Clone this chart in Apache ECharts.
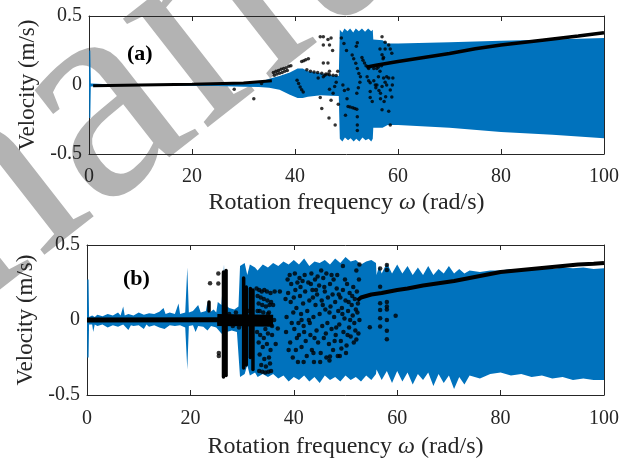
<!DOCTYPE html>
<html>
<head>
<meta charset="utf-8">
<script src="https://cdn.jsdelivr.net/npm/echarts@6/dist/echarts.min.js"></script>
<style>
html,body{margin:0;padding:0;background:#fff;}
#chart{width:630px;height:461px;}
</style>
</head>
<body>
<div id="chart"></div>
<script>
// ---- data ----
var xTicks = [0, 20, 40, 60, 80, 100];
var yTicks = [-0.5, 0, 0.5];

// panel (a): blue envelope
var aUpper = [[0,0],[0.05,0.25],[0.25,0.25],[0.35,0.01],[5,0.004],[15,0.005],[25,0.008],[30,0.012],[33,0.02],[35,0.045],[37,0.065],[39,0.09],[40.5,0.12],[41.5,0.12],[42.5,0.1],[45,0.085],[47,0.07],[48.5,0.065],
  [48.7,0.40],[49.2,0.38],[49.6,0.41],[50.2,0.39],[50.7,0.41],[51.3,0.38],[51.8,0.41],[52.4,0.39],[53,0.41],[53.6,0.385],[54.2,0.41],[54.8,0.39],[55.1,0.40],
  [55.2,0.33],[57,0.325],[58,0.30],[60,0.30],[70,0.31],[80,0.32],[90,0.33],[100,0.34]];
var aLower = [[0,0],[0.05,-0.24],[0.25,-0.24],[0.35,-0.01],[5,-0.004],[15,-0.005],[25,-0.008],[30,-0.012],[33,-0.015],[35,-0.02],[37,-0.035],[39,-0.07],[40.5,-0.095],[41.5,-0.095],[42.5,-0.085],[45,-0.075],[47,-0.078],[48.5,-0.08],
  [48.7,-0.39],[49.2,-0.41],[49.7,-0.38],[50.3,-0.40],[50.8,-0.385],[51.4,-0.41],[51.9,-0.39],[52.5,-0.41],[53.1,-0.38],[53.7,-0.40],[54.3,-0.39],[54.8,-0.41],[55.1,-0.39],
  [55.2,-0.31],[57,-0.31],[58,-0.29],[60,-0.29],[70,-0.31],[80,-0.34],[90,-0.36],[100,-0.385]];

// panel (a): black curves and dots
var aLine1 = [[0.8,-0.005],[10,0.0],[20,0.005],[30,0.015],[35.5,0.03]];
var aLine2 = [[54,0.13],[56,0.145],[60,0.17],[65,0.2],[70,0.228],[75,0.262],[80,0.29],[88,0.325],[95,0.355],[100,0.378]];
var aDots = [
  [28.2,-0.03],[32,-0.10],[33.5,0.01],
  [35.8,0.09],[36.3,0.10],[36.8,0.105],[37.3,0.115],[37.8,0.12],[38.3,0.125],[38.8,0.135],[39.2,0.14],
  [36,0.07],[36.5,0.08],[37,0.085],[37.5,0.09],[38,0.1],[38.5,0.105],
  [41.3,0.17],[41.7,0.175],[42.1,0.183],[42.6,0.19],
  [40.4,0.035],[40.7,0.01],[41,-0.015],[41.3,-0.035],[41.6,-0.05],
  [42.3,0.11],[43,0.1],[43.7,0.095],[44.4,0.09],[45.2,0.085],[46,0.08],[46.7,0.075],[47.4,0.07],[48,0.068],
  [44.9,0.35],[45.5,0.35],[46.4,0.33],[47,0.34],[46.7,0.29],[45.5,0.29],[47.3,0.25],[45.5,0.16],[46.4,0.16],[46.7,0.10],
  [46.4,0.08],[45.8,0.07],[45.5,0.06],[44.9,-0.09],[45.2,-0.17],[46.6,-0.24],[47.8,-0.29],[47,-0.11],[46.7,-0.03],[47.4,-0.06],
  [48,0.02],[47.7,-0.01],[44.5,0.05],[48.3,0.1],[48.4,-0.14],[49.0,0.34],[49.5,0.30],[50,0.25],
  [49.3,0.0],[49.6,-0.04],[50.3,-0.03],[50.1,-0.10],[50.7,-0.16],[51.2,-0.165],[51.6,-0.17],[52,-0.175],[50.3,-0.155],[49.8,-0.22],
  [52.1,-0.23],[52.1,-0.29],[52.1,-0.33],
  [52.1,0.307],[51.9,0.28],[51.1,0.217],[51.4,0.19],[51.8,0.157],[52.1,0.12],[52.4,0.084],[52.7,0.06],[52.6,0.02],[52.3,-0.02],[52.0,-0.06],
  [53,0.2],[53.2,0.18],[53.5,0.16],[53.8,0.14],[54.1,0.13],
  [54.6,0.017],[54.6,-0.047],[54.6,-0.09],[55,-0.12],[55.3,0.03],[55.9,0.0],[56.2,0.06],[56.5,0.1],[56.8,0.14],[57.1,0.19],
  [56.5,0.26],[56.9,0.35],[56.9,0.22],[57.2,0.2],[57.2,0.05],[57.5,0.02],[56.9,-0.01],[56.3,-0.04],[55.7,-0.02],[57.5,0.31],
  [57.5,0.26],[57.8,0.06],[57.8,0.0],[56.9,-0.18],[56.6,-0.10],[56.6,-0.06],[55.3,0.12],[55.9,0.12],[56.2,0.13],[54.3,0.12],
  [54.0,0.06],[54.3,0.03],[55.6,0.0],[57.6,-0.085],[57.3,-0.12],
  [58.2,0.29],[58.5,0.26],[58.8,0.23],[58.2,0.05],[58.5,-0.036],[58.8,-0.087],[58.2,-0.19],[58.5,-0.29],[58.9,0.0],[59,0.05]
];

// panel (b): blue envelope
var bUpper = [[0,0],[0.05,0.27],[0.3,0.27],[0.4,0.02],[1,0.03],[1.5,0.02],[2,0.035],[3,0.025],[4,0.04],[5,0.03],[6,0.05],[6.5,0.03],[7,0.09],[7.3,0.03],
  [8,0.04],[9,0.03],[10,0.05],[11,0.035],[12,0.045],[13,0.04],[14,0.055],[14.8,0.08],[15.2,0.04],[16,0.05],[17,0.04],[17.7,0.11],[18,0.04],[19,0.05],
  [19.4,0.35],[19.7,0.05],[20.5,0.06],[21.5,0.10],[22,0.05],[23,0.06],[23.3,0.12],[23.7,0.05],[24.5,0.07],[25,0.05],[25.3,0.12],[26,0.1],[26.5,0.37],
  [26.8,0.1],[27.5,0.08],[28.5,0.07],[29.3,0.09],[29.6,0.36],[30.5,0.38],[31,0.3],[31.5,0.37],[32.5,0.35],[33,0.33],[34,0.37],[35,0.35],[36,0.38],
  [37,0.36],[38,0.39],[39,0.37],[40,0.4],[41,0.37],[42,0.41],[43,0.36],[44,0.39],[45,0.38],[46,0.4],[47,0.37],[48,0.41],[49,0.38],[50,0.42],[51,0.39],
  [52,0.4],[53,0.37],[54,0.39],[55,0.4],[55.9,0.38],[56,0.30],[56.5,0.36],[57,0.31],[58,0.38],[59,0.31],[60,0.37],[61,0.31],[62,0.36],[63,0.30],
  [64,0.35],[65,0.3],[66,0.36],[67,0.3],[68,0.34],[69,0.31],[70,0.36],[71,0.31],[72,0.34],[73,0.31],[74,0.33],[76,0.32],[78,0.33],[80,0.33],
  [82,0.34],[84,0.33],[86,0.34],[88,0.34],[90,0.34],[92,0.35],[94,0.345],[96,0.35],[98,0.34],[100,0.345]];
var bLower = [[0,0],[0.05,-0.25],[0.3,-0.25],[0.4,-0.03],[1,-0.03],[1.2,-0.08],[1.5,-0.03],[2,-0.04],[3,-0.03],[4,-0.05],[5,-0.035],[6,-0.045],[7,-0.03],
  [8,-0.067],[8.5,-0.035],[9,-0.04],[10,-0.035],[11,-0.06],[11.5,-0.03],[12,-0.045],[13,-0.035],[14,-0.05],[15,-0.06],[16,-0.035],[17,-0.04],[18,-0.035],
  [19,-0.05],[19.4,-0.33],[19.7,-0.04],[20.5,-0.035],[21,-0.08],[21.5,-0.04],[22.5,-0.045],[23.3,-0.07],[24,-0.04],[25,-0.05],[26,-0.09],[26.5,-0.1],
  [27,-0.08],[28,-0.07],[29,-0.08],[29.6,-0.38],[30.5,-0.36],[31,-0.3],[31.5,-0.37],[32.5,-0.35],[33,-0.38],[34,-0.36],[35,-0.38],[36,-0.36],[37,-0.39],
  [38,-0.37],[39,-0.41],[40,-0.38],[41,-0.4],[42,-0.37],[43,-0.41],[44,-0.38],[45,-0.42],[46,-0.37],[47,-0.40],[48,-0.38],[49,-0.41],[50,-0.37],
  [51,-0.40],[52,-0.38],[53,-0.41],[54,-0.37],[55,-0.40],[55.9,-0.36],[56,-0.33],[57,-0.40],[58,-0.34],[59,-0.42],[60,-0.34],[61,-0.41],[62,-0.35],
  [63,-0.43],[64,-0.36],[65,-0.40],[66,-0.35],[67,-0.44],[68,-0.36],[69,-0.42],[70,-0.37],[71,-0.46],[72,-0.38],[73,-0.43],[74,-0.37],[76,-0.39],
  [78,-0.36],[80,-0.35],[82,-0.37],[84,-0.36],[86,-0.38],[88,-0.37],[90,-0.39],[92,-0.38],[94,-0.40],[96,-0.39],[98,-0.40],[100,-0.40]];

// panel (b): black curves, dot columns and dots
var bLine0 = [[0,0],[26,0.002]];
var bBand = [[25.2,0],[36,-0.005]];
var bLine2 = [[52.3,0.13],[53,0.15],[54,0.16],[55,0.17],[57,0.18],[60,0.2],[62,0.21],[65,0.23],[68,0.245],[71,0.26],[74,0.28],[77,0.3],
  [80,0.32],[83,0.33],[86,0.34],[89,0.35],[92,0.36],[95,0.37],[98,0.375],[100,0.38]];
var bColumns = [[26.4,0.32,-0.38],[26.9,0.33,-0.37],[30.3,0.28,-0.32],[30.8,0.22,-0.3],[31.6,0.21,-0.25],[32.1,0.2,-0.33],[23.6,0.12,0.06]];
var bDots = [
  [23.8,0.245],[25.4,0.244],[25.4,0.31],[25.5,-0.24],[25.5,-0.22],[25.9,0.02],[25.6,-0.02],
  [27.5,0.04],[28.2,-0.04],[28.8,0.05],[29.4,-0.05],[31.2,0.06],[31.8,-0.06],[33,0.06],[34.5,-0.06],[35.2,0.05],[35.8,-0.04],[36.2,0.0],
  [32.8,0.21],[33.3,0.2],[33.8,0.19],[34.3,0.2],[34.8,0.19],[35.5,0.18],[33,0.16],[33.6,0.15],[34.2,0.14],[34.9,0.13],[33.2,0.11],
  [33.9,0.1],[34.6,0.09],[35.3,0.1],[33.4,0.06],[34.1,0.05],[35,0.04],[35.6,0.12],[36.3,0.19],[37.3,0.19],[36,0.1],
  [32.9,-0.08],[33.5,-0.1],[34.2,-0.12],[35,-0.09],[33.2,-0.15],[34,-0.18],[34.8,-0.16],[35.5,-0.2],[33.4,-0.23],[34.3,-0.26],
  [35.2,-0.25],[33.7,-0.3],[34.6,-0.31],[35.4,-0.29],[33.3,-0.34],[33.9,-0.345],[34.5,-0.35],[35.1,-0.345],[35.6,-0.34],[36.9,-0.056],
  [35.8,-0.1],[36.5,-0.16],
  [38.6,0.02],[38.5,-0.08],[38.9,0.18],[39.2,0.3],[39.5,0.24],[39.4,0.12],[39.6,-0.02],[39.3,-0.15],[39.8,-0.25],[40.2,0.31],
  [40.3,0.2],[40.5,0.08],[40.1,-0.06],[40.6,-0.12],[40.4,-0.2],[40.8,-0.28],[41.1,0.28],[41.2,0.16],[41.4,0.04],[41.0,-0.1],
  [41.5,-0.18],[41.3,0.22],[41.8,0.11],[41.9,-0.04],[42.1,0.3],[42.2,0.19],[42.3,-0.14],[42.5,-0.24],[42.6,0.06],[42.8,0.25],
  [43.0,0.13],[43.1,-0.02],[43.2,-0.1],[43.4,0.31],[43.5,-0.2],[43.6,0.2],[43.8,0.02],[43.9,-0.28],[44.1,0.27],[44.2,0.1],
  [44.4,-0.07],[44.5,0.17],[44.7,-0.15],[44.9,0.23],[45.0,0.04],[45.2,-0.22],[45.4,0.13],[45.5,-0.04],[45.7,0.28],[45.8,-0.12],
  [46.0,0.19],[46.1,0.07],[46.3,-0.25],[46.5,-0.02],[46.6,0.15],[46.8,-0.16],[47.0,0.24],[47.1,0.09],[47.3,-0.06],[47.5,0.17],
  [47.6,-0.2],[47.8,0.02],[48.0,0.12],[48.1,-0.1],[48.3,0.21],[48.5,-0.24],[48.6,0.06],[48.8,-0.03],[49.0,0.15],[49.1,-0.14],
  [49.3,0.08],[49.5,0.2],[49.6,-0.08],[49.8,0.01],[50.0,0.13],[50.2,-0.17],[50.3,0.24],[50.5,0.06],[50.7,-0.05],[50.8,0.18],
  [51.0,-0.11],[51.2,0.1],[51.4,0.03],[51.5,0.22],[51.7,-0.02],[51.8,0.14],[52.0,0.07],[52.1,-0.13],[52.2,0.19],[52.4,0.11],
  [52.6,0.27],[52.7,0.0],[52.1,0.33],[52.7,0.37],[49.5,0.36],[48.9,-0.24],[47,-0.244],[43.8,-0.22],[41.5,0.0],[45.3,0.33],[47.3,0.3],
  [38.8,0.27],[39.9,0.05],[40.9,-0.02],[41.7,0.26],[42.9,0.0],[43.3,0.24],[44.0,-0.12],[44.6,0.29],[45.1,-0.28],[45.9,0.22],
  [46.2,-0.09],[46.9,0.05],[47.7,0.27],[48.2,-0.05],[48.7,0.17],[49.2,-0.19],[49.9,0.27],[50.4,-0.1],[50.9,0.0],[51.3,0.16],
  [51.9,-0.07],[52.3,0.05],[39.0,-0.2],[40.0,0.15],[42.0,-0.08],[43.7,0.15],[45.6,0.1],[46.9,-0.27],[48.4,0.3],[50.6,0.12],
  [51.6,-0.15],[40.7,0.25],[41.9,-0.28],[44.3,0.2],[46.3,0.31],[47.9,-0.14],[49.4,0.04],[50.1,-0.22],[52.5,-0.09],[38.4,0.14],
  [54.7,-0.049],[56.7,0.344],[56.7,0.222],[56.7,0.111],[56.7,0.067],[56.7,0.011],[56.7,-0.044],[58,0.367],[58,0.333],[58,0.12],
  [58,0.09],[58,0.07],[58,0.0],[58,-0.071],[58,-0.129],[59.7,0.029]
];

var BLUE = '#0072BD';
var FONT = 'Liberation Serif';
var TXT = '#262626';

function bandRender(upper, lower) {
	return function (params, api) {
		var pts = [];
		upper.forEach(function (p) { pts.push(api.coord(p)); });
		for (var i = lower.length - 1; i >= 0; i--) pts.push(api.coord(lower[i]));
		return { type: 'polygon', shape: { points: pts }, style: { fill: BLUE } };
	};
}

function colRender(params, api) {
	var p1 = api.coord([api.value(0), api.value(1)]);
	var p2 = api.coord([api.value(0), api.value(2)]);
	return { type: 'line', shape: { x1: p1[0], y1: p1[1], x2: p2[0], y2: p2[1] },
		style: { stroke: '#000', lineWidth: 3.5, lineCap: 'round' } };
}

var lineAx = { show: true, onZero: false, lineStyle: { color: TXT, width: 1 } };
var tickAx = { inside: true, length: 5, lineStyle: { color: TXT } };

function xAxisMain(idx, gap, margin) {
	return {
		gridIndex: idx, type: 'value', min: xTicks[0], max: xTicks[xTicks.length - 1], interval: 20,
		position: 'bottom', axisLine: lineAx, axisTick: tickAx,
		axisLabel: { fontFamily: FONT, fontSize: 20, color: TXT, margin: margin },
		splitLine: { show: false },
		name: 'Rotation frequency {i|ω} (rad/s)', nameLocation: 'middle', nameGap: gap,
		nameTextStyle: { fontFamily: FONT, fontSize: 24, color: TXT,
			rich: { i: { fontFamily: FONT, fontSize: 24, color: TXT, fontStyle: 'italic' } } }
	};
}
function xAxisTop(idx) {
	return { gridIndex: idx, type: 'value', min: 0, max: 100, interval: 20, position: 'top',
		axisLine: lineAx, axisTick: tickAx, axisLabel: { show: false }, splitLine: { show: false } };
}
function yAxisMain(idx, gap) {
	return {
		gridIndex: idx, type: 'value', min: yTicks[0], max: yTicks[yTicks.length - 1], interval: 0.5,
		position: 'left', axisLine: lineAx, axisTick: tickAx,
		axisLabel: { fontFamily: FONT, fontSize: 20, color: TXT, margin: 7 },
		splitLine: { show: false },
		name: 'Velocity (m/s)', nameLocation: 'middle', nameGap: gap,
		nameTextStyle: { fontFamily: FONT, fontSize: 23, color: TXT }
	};
}
function yAxisRight(idx) {
	return { gridIndex: idx, type: 'value', min: -0.5, max: 0.5, interval: 0.5, position: 'right',
		axisLine: lineAx, axisTick: tickAx, axisLabel: { show: false }, splitLine: { show: false } };
}

var myChart = echarts.init(document.getElementById('chart'));
var option = {
	animation: false,
	backgroundColor: '#fff',
	grid: [
		{ left: 89, top: 16, width: 515, height: 138 },
		{ left: 87, top: 245, width: 517, height: 150 }
	],
	xAxis: [xAxisMain(0, 37, 13), xAxisMain(1, 40, 14), xAxisTop(0), xAxisTop(1)],
	yAxis: [yAxisMain(0, 49), yAxisMain(1, 46), yAxisRight(0), yAxisRight(1)],
	graphic: [
		// grey watermark behind the figure
		{ type: 'text', z: -10, x: -135, y: 295, rotation: 38 * Math.PI / 180,
		  style: { text: 'manuscript', font: '300px "Liberation Serif"', fill: '#b3b3b3', verticalAlign: 'middle' } },
		{ type: 'text', z: 10, x: 127, y: 54,
		  style: { text: '(a)', font: 'bold 22px "Liberation Serif"', fill: '#000', verticalAlign: 'middle' } },
		{ type: 'text', z: 10, x: 123, y: 279,
		  style: { text: '(b)', font: 'bold 22px "Liberation Serif"', fill: '#000', verticalAlign: 'middle' } }
	],
	series: [
		{ type: 'custom', xAxisIndex: 0, yAxisIndex: 0, data: [[0, 0]], renderItem: bandRender(aUpper, aLower), silent: true },
		{ type: 'line', xAxisIndex: 0, yAxisIndex: 0, data: aLine1, showSymbol: false, lineStyle: { color: '#000', width: 3 } },
		{ type: 'line', xAxisIndex: 0, yAxisIndex: 0, data: aLine2, showSymbol: false, lineStyle: { color: '#000', width: 3.5 } },
		{ type: 'scatter', xAxisIndex: 0, yAxisIndex: 0, data: aDots, symbolSize: 3.5, itemStyle: { color: '#000' } },

		{ type: 'custom', xAxisIndex: 1, yAxisIndex: 1, data: [[0, 0]], renderItem: bandRender(bUpper, bLower), silent: true },
		{ type: 'line', xAxisIndex: 1, yAxisIndex: 1, data: bLine0, showSymbol: false, lineStyle: { color: '#000', width: 5 } },
		{ type: 'line', xAxisIndex: 1, yAxisIndex: 1, data: bBand, showSymbol: false, lineStyle: { color: '#000', width: 12 } },
		{ type: 'line', xAxisIndex: 1, yAxisIndex: 1, data: bLine2, showSymbol: false, lineStyle: { color: '#000', width: 4 } },
		{ type: 'custom', xAxisIndex: 1, yAxisIndex: 1, data: bColumns, renderItem: colRender, encode: { x: 0, y: [1, 2] } },
		{ type: 'scatter', xAxisIndex: 1, yAxisIndex: 1, data: bDots, symbolSize: 4.5, itemStyle: { color: '#000' } }
	]
};
myChart.setOption(option);
</script>
</body>
</html>
